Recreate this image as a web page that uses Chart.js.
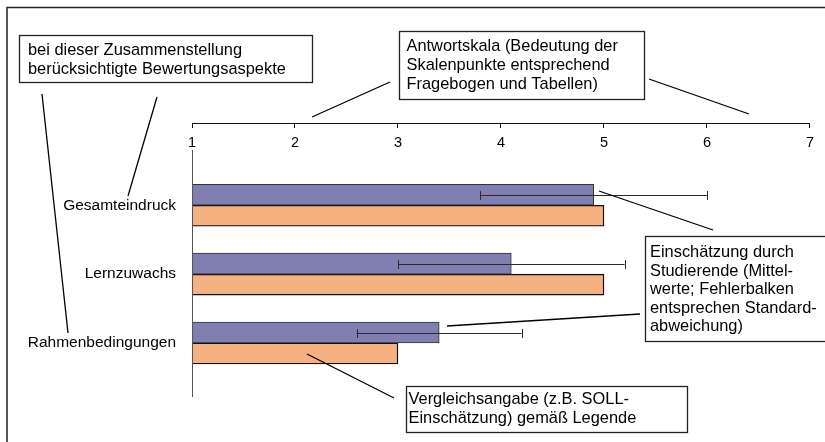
<!DOCTYPE html>
<html>
<head>
<meta charset="utf-8">
<script src="https://cdn.jsdelivr.net/npm/chart.js@4/dist/chart.umd.min.js"></script>
<style>
  html, body { margin: 0; padding: 0; background: #fff; }
  canvas { display: block; }
</style>
</head>
<body>
<canvas id="chart" width="825" height="442"></canvas>
<script>
const categories = ["Gesamteindruck", "Lernzuwachs", "Rahmenbedingungen"];
const studentMeans = [4.9, 4.1, 3.4];
const studentSd = [1.1, 1.1, 0.8];
const targetValues = [5.0, 5.0, 3.0];
const scaleMin = 1;
const scaleMax = 7;

const FONT = '"Liberation Sans", Arial, Helvetica, sans-serif';

// info boxes and leader lines around the chart (layout only)
const notes = [
    {box: [19, 35, 293, 47], x: 28, y: [54.5, 73.5],
        lines: ["bei dieser Zusammenstellung", "berücksichtigte Bewertungsaspekte"]},
    {box: [399, 31, 245, 68], x: 406.5, y: [50.7, 69.7, 88.5],
        lines: ["Antwortskala (Bedeutung der", "Skalenpunkte entsprechend", "Fragebogen und Tabellen)"]},
    {box: [645, 236, 200, 105], x: 650, y: [257.3, 275.8, 294.3, 312.8, 331.3],
        lines: ["Einschätzung durch", "Studierende (Mittel-", "werte; Fehlerbalken", "entsprechen Standard-", "abweichung)"]},
    {box: [406, 386, 281, 46], x: 408.5, y: [403.5, 423],
        lines: ["Vergleichsangabe (z.B. SOLL-", "Einschätzung) gemäß Legende"]},
];
const leaders = [
    [42, 94, 68, 333],
    [157, 97, 128, 196],
    [390, 82, 312, 117],
    [649, 79, 749, 114],
    [599, 191, 713, 230],
    [447, 326, 640, 314],
    [307, 354, 394, 398],
];

const errorBars = {
    id: "errorBars",
    afterDatasetsDraw(chart) {
        const ctx = chart.ctx;
        const x = chart.scales.x;
        const meta = chart.getDatasetMeta(0);
        ctx.save();
        ctx.strokeStyle = "#2a2a2a";
        ctx.lineWidth = 1;
        meta.data.forEach((bar, i) => {
            const x1 = x.getPixelForValue(studentMeans[i] - studentSd[i]);
            const x2 = x.getPixelForValue(studentMeans[i] + studentSd[i]);
            const y = Math.round(bar.y) + 0.5;
            ctx.beginPath();
            ctx.moveTo(x1, y);
            ctx.lineTo(x2, y);
            ctx.moveTo(Math.round(x1) + 0.5, y - 4.5);
            ctx.lineTo(Math.round(x1) + 0.5, y + 4.5);
            ctx.moveTo(Math.round(x2) + 0.5, y - 4.5);
            ctx.lineTo(Math.round(x2) + 0.5, y + 4.5);
            ctx.stroke();
        });
        ctx.restore();
    }
};

const decorations = {
    id: "decorations",
    afterDraw(chart) {
        const ctx = chart.ctx;
        const area = chart.chartArea;
        const x0 = Math.round(chart.scales.x.getPixelForValue(scaleMin)) + 0.5;
        ctx.save();
        // value axis line below the "1" label
        ctx.strokeStyle = "#555";
        ctx.lineWidth = 1;
        ctx.beginPath();
        ctx.moveTo(x0, area.top + 27);
        ctx.lineTo(x0, area.bottom);
        ctx.stroke();

        // outer frame
        ctx.strokeStyle = "#222";
        ctx.lineWidth = 1.5;
        ctx.beginPath();
        ctx.moveTo(7, 450);
        ctx.lineTo(7, 7.5);
        ctx.lineTo(830, 7.5);
        ctx.stroke();

        ctx.lineWidth = 1.3;
        ctx.strokeStyle = "#000";
        leaders.forEach(l => {
            ctx.beginPath();
            ctx.moveTo(l[0], l[1]);
            ctx.lineTo(l[2], l[3]);
            ctx.stroke();
        });

        ctx.font = "16.4px " + FONT;
        ctx.textBaseline = "alphabetic";
        ctx.textAlign = "left";
        notes.forEach(n => {
            const [bx, by, bw, bh] = n.box;
            ctx.fillStyle = "#fff";
            ctx.fillRect(bx, by, bw, bh);
            ctx.strokeStyle = "#222";
            ctx.lineWidth = 1.3;
            ctx.strokeRect(bx + 0.5, by + 0.5, bw, bh);
            ctx.fillStyle = "#000";
            n.lines.forEach((t, i) => ctx.fillText(t, n.x, n.y[i]));
        });
        ctx.restore();
    }
};

new Chart(document.getElementById("chart"), {
    type: "bar",
    data: {
        datasets: [
            {
                label: "Einschätzung durch Studierende",
                data: studentMeans.map((v, i) => ({x: v, y: i})),
                backgroundColor: "#7f7fb1",
                borderColor: "#333",
                borderWidth: 1,
                borderSkipped: false,
                barThickness: 21,
            },
            {
                label: "Vergleichsangabe",
                data: targetValues.map((v, i) => ({x: v, y: i})),
                backgroundColor: "#f5b17f",
                borderColor: "#111",
                borderWidth: 1.4,
                borderSkipped: false,
                barThickness: 21,
            },
        ],
    },
    options: {
        indexAxis: "y",
        responsive: false,
        animation: false,
        layout: {
            padding: {top: 113, right: 15, bottom: 45, left: 0},
        },
        plugins: {
            legend: {display: false},
            tooltip: {enabled: false},
        },
        scales: {
            x: {
                type: "linear",
                position: "top",
                min: scaleMin,
                max: scaleMax,
                grid: {
                    display: true,
                    drawOnChartArea: false,
                    drawTicks: true,
                    tickLength: -5,
                    color: "#111",
                },
                border: {display: true, color: "#111", width: 1},
                ticks: {
                    stepSize: 1,
                    mirror: true,
                    padding: 11,
                    color: "#000",
                    font: {size: 14.5, family: FONT},
                },
                afterFit: scale => { scale.height = 10; },
            },
            y: {
                type: "linear",
                position: "left",
                reverse: true,
                offset: false,
                min: -1.195,
                max: 2.784,
                grid: {display: false, drawTicks: false},
                border: {display: false},
                ticks: {
                    padding: 16,
                    color: "#000",
                    font: {size: 15.5, family: FONT},
                    callback: v => categories[v] ?? "",
                },
                afterBuildTicks: scale => {
                    scale.ticks = categories.map((c, i) => ({value: i}));
                },
                afterFit: scale => { scale.width = 192; },
            },
        },
    },
    plugins: [errorBars, decorations],
});
</script>
</body>
</html>
